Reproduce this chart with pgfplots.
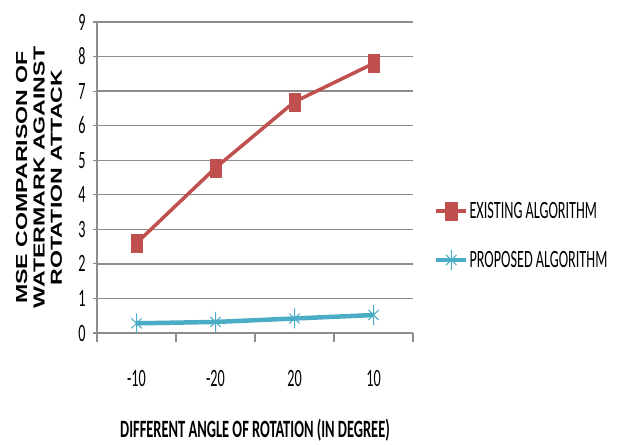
\documentclass[border=0pt]{standalone}
\usepackage{pgfplots}
\pgfplotsset{compat=1.18}
\usepackage{fontspec}
\setmainfont{Carlito}[FakeStretch=0.57]
\newfontfamily\boldlab{Carlito}[FakeStretch=0.58]
\newfontfamily\ylabfont{Liberation Sans}[FakeStretch=1.45]

\definecolor{exred}{HTML}{C0504D}
\definecolor{prblue}{HTML}{4BACC6}
\definecolor{gridgray}{HTML}{8C8C8C}

\begin{document}
\begin{tikzpicture}
\useasboundingbox (0,0) rectangle (621bp,-445bp);
\begin{axis}[
  at={(97bp,-333bp)}, anchor=south west,
  scale only axis,
  width=316bp, height=311bp,
  xmin=-0.5, xmax=3.5,
  ymin=0, ymax=9,
  xtick={0,1,2,3},
  xticklabels={-10,-20,20,10},
  minor xtick={-0.5,0.5,1.5,2.5,3.5},
  ytick={0,1,...,9},
  axis x line=bottom, axis y line=left,
  axis line style={-, draw=gridgray, line width=1.1bp},
  tick align=outside,
  major tick length=4bp, minor tick length=9bp,
  tick style={draw=gridgray, line width=1.1bp},
  xtick style={draw=none},
  minor x tick style={draw=gridgray, line width=1.1bp},
  ymajorgrids,
  grid style={draw=gridgray, line width=1.3bp},
  /pgf/number format/assume math mode=true,
  tick label style={font=\fontsize{25}{27}\selectfont, text=black},
  xticklabel style={anchor=center, yshift=-41bp},
  yticklabel style={anchor=east, xshift=-4bp},
  xlabel={DIFFERENT ANGLE OF ROTATION (IN DEGREE)},
  xlabel style={at={(axis description cs:0.5,-0.312)}, anchor=center,
    font=\boldlab\fontsize{25}{27}\selectfont\bfseries},
  ylabel={MSE COMPARISON OF\\WATERMARK AGAINST\\ROTATION ATTACK},
  ylabel style={at={(axis description cs:-0.1835,0.5)}, anchor=center, align=center,
    font=\ylabfont\fontsize{16}{17.5}\selectfont\bfseries},
  legend image code/.code={
    \draw[mark repeat=2, mark phase=2, #1]
      plot coordinates {(0bp,0bp) (15bp,0bp) (30bp,0bp)};},
  legend style={at={(axis description cs:1.066,0.313)}, anchor=west,
    draw=none, fill=none, inner sep=0pt, row sep=29bp,
    font=\fontsize{25}{27}\selectfont,
    nodes={inner sep=1bp}},
  legend cell align=left,
  clip=false,
]
\addplot[exred, line width=3.5bp, mark=square*,
  mark size=9bp, mark options={xscale=0.62, line width=0.5bp}]
  coordinates {(0,2.6) (1,4.78) (2,6.69) (3,7.8)};
\addlegendentry{EXISTING ALGORITHM}
\addplot[prblue, line width=4.5bp, mark=asterisk,
  mark size=10bp, mark options={xscale=0.6, line width=1bp}]
  coordinates {(0,0.28) (1,0.32) (2,0.42) (3,0.52)};
\addlegendentry{PROPOSED ALGORITHM}
\end{axis}
\end{tikzpicture}
\end{document}
